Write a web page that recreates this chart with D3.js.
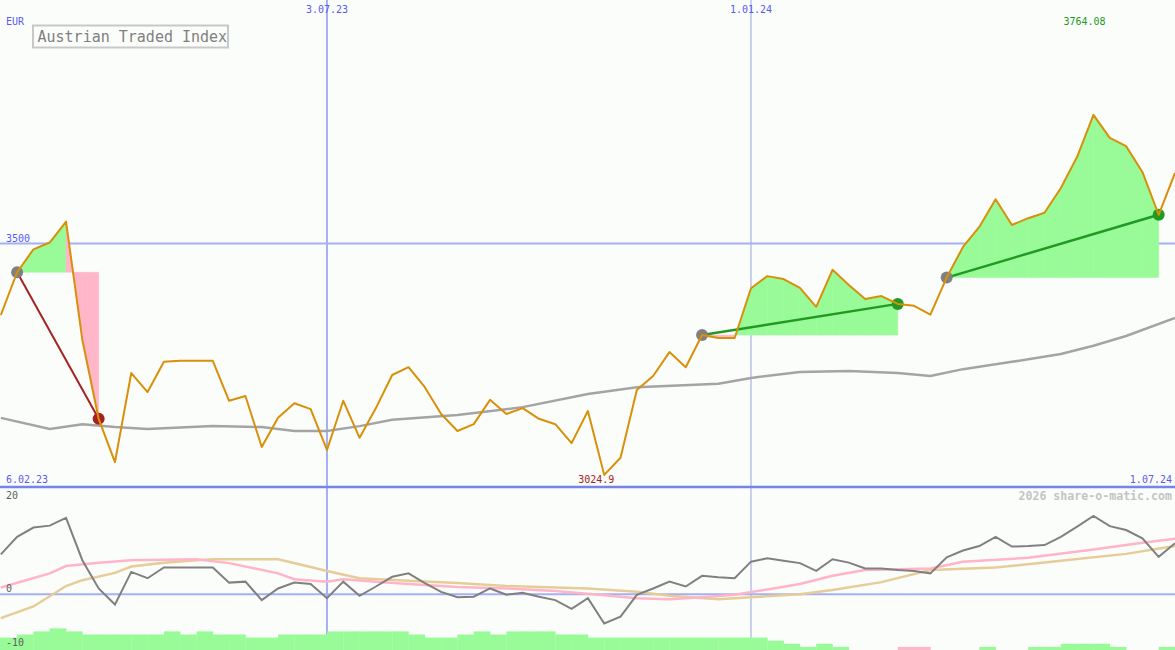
<!DOCTYPE html>
<html><head><meta charset="utf-8">
<script src="https://cdn.jsdelivr.net/npm/d3@7"></script>
<style>body{margin:0;background:#fbfdfb}svg{display:block}text{font-family:"DejaVu Sans Mono",monospace}</style>
</head><body><svg id="c" width="1175" height="650"></svg>
<script>
// ---------- data ----------
const firstWeek = "2023-02-13";
const rangeStart = "2023-02-06", rangeEnd = "2024-07-01";
const closeValues = [3353,3441,3488,3502,3545,3302,3140,3051,3234,3195,
  3257,3259,3259,3259,3177,3187,3082,3142,3172,3160,
  3076,3177,3101,3162,3230,3246,3205,3150,3115,3129,
  3179,3150,3162,3140,3129,3090,3156,3024.9,3060,3199,
  3228,3277,3246,3312,3306,3306,3408,3433,3427,3409,
  3370,3446,3415,3386,3392,3376,3372,3354,3430,3493,
  3534,3591,3538,3552,3563,3614,3678,3764.08,3717,3700,
  3647,3559,3645];
const maWeekIdx = [0,3,5,7,9,13,16,18,20,22,24,28,32,36,39,44,46,49,52,55,57,59,62,65,67,69,72];
const maValues  = [3142,3119,3129,3123,3119,3125,3123,3115,3115,3125,3138,3148,3164,3191,3205,3212,3224,3236,3238,3234,3228,3242,3257,3273,3290,3310,3347];
const oscValues = [8.2,11.8,13.7,14.1,15.7,7.0,1.2,-2.1,4.6,3.3,
  5.5,5.5,5.5,5.5,2.4,2.6,-1.2,1.2,2.4,2.1,
  -0.8,2.6,-0.3,1.6,3.6,4.3,2.3,0.5,-0.6,-0.5,
  1.2,-0.1,0.3,-0.5,-1.2,-3.0,-0.8,-6.0,-4.6,-0.1,
  1.2,2.6,1.6,3.8,3.5,3.3,6.7,7.4,6.9,6.4,
  4.8,7.2,6.5,5.3,5.3,5.0,4.8,4.3,7.6,9.0,
  9.9,11.8,9.8,9.9,10.1,11.8,13.9,16.1,14.0,13.2,
  11.5,7.7,10.5];
const sigWeekIdx = [0,3,4,6,8,12,14,17,18,20,21,23,25,28,31,34,37,39,41,43,45,47,49,51,53,57,59,63,67,70,72];
const sigValues  = [1.4,4.3,5.8,6.5,7.0,7.2,6.4,4.3,3.1,2.6,3.1,2.6,2.1,1.5,1.2,0.7,-0.2,-0.8,-1.0,-0.6,-0.1,1.0,2.1,3.8,5.0,5.3,6.7,7.5,9.2,10.6,11.4];
const slowWeekIdx = [0,2,4,5,7,8,10,12,13,17,19,20,22,25,28,31,36,39,41,44,46,49,51,54,57,61,65,69,72];
const slowValues  = [-4.9,-2.5,1.7,2.9,4.4,5.7,6.5,7.0,7.2,7.2,5.6,4.8,3.3,2.8,2.3,1.7,1.2,0.5,-0.3,-1.0,-0.6,0.0,0.9,2.5,5.0,5.5,6.9,8.3,9.9];
const histLevels = [4,4,5,6,7,6,5,5,5,5,5,6,5,6,5,5,4,4,5,5,5,6,6,6,6,6,5,4,4,5,6,5,6,6,6,5,5,
  4,4,4,4,4,4,4,4,4,4,4,
  3,2,1,2,1,0,0,0,-1,-1,0,0,0,1,0,0,1,1,2,2,2,1,0,0,1];
const segFrom = [1,43,58];
const segTo   = [6,55,71];
const gridDates  = ["2023-07-03","2024-01-01"];
const gridLabels = ["3.07.23","1.01.24"];
const rangeLabels = ["6.02.23","1.07.24"];
const priceTicks = [3500];
const oscTicks = [20,0,-10];
const title = "Austrian Traded Index";
const currency = "EUR";
const credit = "2026 share-o-matic.com";

// ---------- scales ----------
const W = 1175, H = 650, mainBottom = 487;
const parse = d3.utcParse("%Y-%m-%d");
const t0 = parse(firstWeek);
const dates = closeValues.map((_, i) => d3.utcDay.offset(t0, 7 * i));
const x = d3.scaleUtc().domain([parse(rangeStart), parse(rangeEnd)]).range([-15.5, W]);
const y = d3.scaleLinear().domain([3000, 4000]).range([mainBottom, 0]);
const yo = d3.scaleLinear().domain([-10, 20]).range([643, 496.9]);
const yh = d3.scaleLinear().domain([0, 7]).range([650, 628.3]);

const svg = d3.select("#c");
const defs = svg.append("defs");
defs.append("clipPath").attr("id", "clipMain").append("rect").attr("x", 0).attr("y", 0).attr("width", W).attr("height", mainBottom);
defs.append("clipPath").attr("id", "clipLow").append("rect").attr("x", 0).attr("y", mainBottom + 1).attr("width", W).attr("height", H - mainBottom - 1);

svg.append("rect").attr("width", W).attr("height", H).attr("fill", "#fbfdfb");

// grid lines
gridDates.forEach((d, k) => {
  svg.append("line").attr("x1", x(parse(d))).attr("x2", x(parse(d))).attr("y1", 0).attr("y2", H)
    .attr("stroke", k === 0 ? "#a4b0f4" : "#aab2e0").attr("stroke-width", k === 0 ? 2 : 1.2);
  svg.append("text").attr("x", x(parse(d))).attr("y", 13).attr("text-anchor", "middle")
    .attr("font-size", 10).attr("fill", "#5a5af0").text(gridLabels[k]);
});
priceTicks.forEach(v => {
  svg.append("line").attr("x1", 0).attr("x2", W).attr("y1", y(v)).attr("y2", y(v))
    .attr("stroke", "#a4b0f4").attr("stroke-width", 2);
  svg.append("text").attr("x", 6).attr("y", y(v) - 2).attr("font-size", 10).attr("fill", "#5a5af0").text(String(v));
});
svg.append("line").attr("x1", 0).attr("x2", W).attr("y1", yo(0)).attr("y2", yo(0))
  .attr("stroke", "#a4b0f4").attr("stroke-width", 2);

// histogram
const step = x(dates[1]) - x(dates[0]);
const low = svg.append("g").attr("clip-path", "url(#clipLow)");
low.selectAll("rect.h").data(histLevels).join("rect")
  .attr("x", (d, i) => x(dates[i]) - step)
  .attr("width", step + 0.3)
  .attr("y", d => yh(Math.abs(d)))
  .attr("height", d => yh(0) - yh(Math.abs(d)))
  .attr("fill", d => d < 0 ? "#ffb6c8" : "#98fb98");

// segment fills: each weekly interval coloured by where it ends relative to the start level
const main = svg.append("g").attr("clip-path", "url(#clipMain)");
segFrom.forEach((a, k) => {
  const b = segTo[k];
  const base = closeValues[a];
  d3.range(a, b).forEach(j => {
    const area = d3.area().x(i => x(dates[i])).y0(y(base)).y1(i => y(closeValues[i]));
    main.append("path").attr("d", area([j, j + 1]))
      .attr("fill", closeValues[j + 1] >= base ? "#98fb98" : "#ffb6c8")
      .attr("stroke", closeValues[j + 1] >= base ? "#98fb98" : "#ffb6c8").attr("stroke-width", 0.5);
  });
});

// moving average
main.append("path").datum(maWeekIdx)
  .attr("d", d3.line().x(i => x(dates[i])).y((i, j) => y(maValues[j])))
  .attr("fill", "none").attr("stroke", "#a4a4a4").attr("stroke-width", 2.5);

// oscillator lines
low.append("path").datum(slowWeekIdx)
  .attr("d", d3.line().x(i => x(dates[i])).y((i, j) => yo(slowValues[j])))
  .attr("fill", "none").attr("stroke", "#e6cc98").attr("stroke-width", 2.5);
low.append("path").datum(sigWeekIdx)
  .attr("d", d3.line().x(i => x(dates[i])).y((i, j) => yo(sigValues[j])))
  .attr("fill", "none").attr("stroke", "#ffb4c8").attr("stroke-width", 2.5);
low.append("path").datum(oscValues)
  .attr("d", d3.line().x((d, i) => x(dates[i])).y(d => yo(d)))
  .attr("fill", "none").attr("stroke", "#808080").attr("stroke-width", 2);

// trend lines and dots
segFrom.forEach((a, k) => {
  const b = segTo[k];
  const gain = closeValues[b] >= closeValues[a];
  const col = gain ? "#229922" : "#a52222";
  main.append("line").attr("x1", x(dates[a])).attr("y1", y(closeValues[a]))
    .attr("x2", x(dates[b])).attr("y2", y(closeValues[b]))
    .attr("stroke", col).attr("stroke-width", gain ? 2.5 : 2);
  main.append("circle").attr("cx", x(dates[a])).attr("cy", y(closeValues[a])).attr("r", 6).attr("fill", "#808080");
  main.append("circle").attr("cx", x(dates[b])).attr("cy", y(closeValues[b])).attr("r", 6).attr("fill", col);
});

// price line
main.append("path").datum(closeValues)
  .attr("d", d3.line().x((d, i) => x(dates[i])).y(d => y(d)))
  .attr("fill", "none").attr("stroke", "#d8900a").attr("stroke-width", 2).attr("stroke-linejoin", "round");

// panel separator
svg.append("line").attr("x1", 0).attr("x2", W).attr("y1", mainBottom).attr("y2", mainBottom)
  .attr("stroke", "#7484ec").attr("stroke-width", 2.5);

// extremes
const iMax = d3.maxIndex(closeValues), iMin = d3.minIndex(closeValues);
svg.append("text").attr("x", x(dates[iMax]) - 9).attr("y", 25).attr("text-anchor", "middle")
  .attr("font-size", 10).attr("fill", "#229922").text(closeValues[iMax]);
svg.append("text").attr("x", x(dates[iMin]) - 8).attr("y", 483).attr("text-anchor", "middle")
  .attr("font-size", 10).attr("fill", "#a52222").text(closeValues[iMin]);

// range labels
svg.append("text").attr("x", 6).attr("y", 483).attr("font-size", 10).attr("fill", "#5a5af0").text(rangeLabels[0]);
svg.append("text").attr("x", 1172).attr("y", 483).attr("text-anchor", "end").attr("font-size", 10).attr("fill", "#5a5af0").text(rangeLabels[1]);
svg.append("text").attr("x", 6).attr("y", 25).attr("font-size", 10).attr("fill", "#5a5af0").text(currency);

// oscillator tick labels
const oscDy = {"20": 2.5, "0": -2.5, "-10": 3};
oscTicks.forEach(v => {
  svg.append("text").attr("x", 6).attr("y", yo(v) + oscDy[String(v)]).attr("font-size", 10).attr("fill", "#606060").text(String(v));
});
svg.append("text").attr("x", 1172).attr("y", 500).attr("text-anchor", "end").attr("font-size", 11.6)
  .attr("font-weight", "bold").attr("fill", "#c4c4c4").text(credit);

// title box
svg.append("rect").attr("x", 33).attr("y", 25.5).attr("width", 195).attr("height", 22)
  .attr("fill", "#fbfdfb").attr("stroke", "#c8c8c8").attr("stroke-width", 2);
svg.append("text").attr("x", 37.5).attr("y", 42).attr("font-size", 15).attr("fill", "#808080").text(title);
</script></body></html>
